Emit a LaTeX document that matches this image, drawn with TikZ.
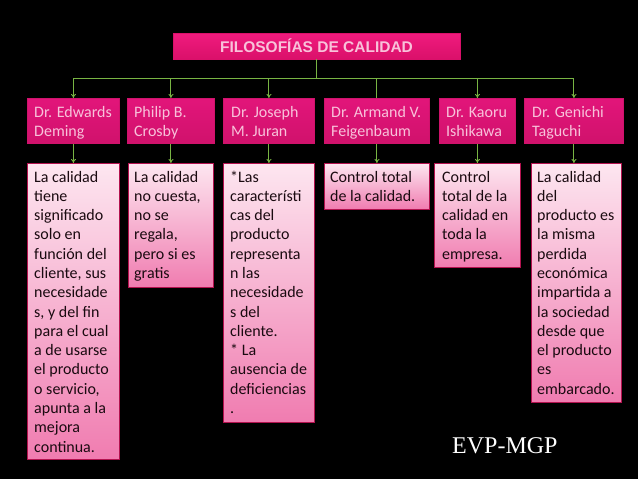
\documentclass[tikz,border=0pt]{standalone}
\usepackage{fontspec}
\newfontfamily\calib{Carlito}
\newfontfamily\arialb{Liberation Sans}
\newfontfamily\timesf{Liberation Serif}
\usetikzlibrary{arrows.meta}
\definecolor{bg}{HTML}{000000}
\definecolor{pinkD}{HTML}{E2157A}
\definecolor{pinkDb}{HTML}{D0126C}
\definecolor{pinkT}{HTML}{F01B7E}
\definecolor{pinkTb}{HTML}{DA106A}
\definecolor{pinkTxt}{HTML}{F8C2DA}
\definecolor{pinkL}{HTML}{FDE6F0}
\definecolor{pinkM}{HTML}{F07CB0}
\definecolor{pinkBorder}{HTML}{B3124F}
\definecolor{conn}{HTML}{78B443}
\definecolor{darktxt}{HTML}{1A0A10}
\newcommand{\toplines}[1]{\parbox[t]{120pt}{\raggedright #1}}
\tikzset{
  titlebox/.style={draw=pinkTb, line width=0.8pt, top color=pinkT, bottom color=pinkTb, minimum width=287pt, minimum height=26pt, inner sep=0pt, font=\arialb\bfseries\fontsize{15.5}{18}\selectfont, text=pinkTxt},
  ubox/.style={draw=pinkDb, line width=0.8pt, top color=pinkD, bottom color=pinkDb, anchor=north west, inner sep=0pt},
  lbox/.style={draw=pinkBorder, line width=0.8pt, top color=pinkL, bottom color=pinkM, anchor=north west, inner sep=0pt},
  utext/.style={anchor=base west, inner sep=0pt, text=pinkTxt, font=\calib\fontsize{16}{19.2}\selectfont},
  ltext/.style={anchor=base west, inner sep=0pt, text=darktxt, font=\calib\fontsize{16}{19.3}\selectfont},
  link/.style={draw=conn, line width=0.9pt},
  arr/.style={link, -{To[length=4pt,width=5pt]}},
}
\begin{document}
\begin{tikzpicture}[x=1pt, y=-1pt]
\useasboundingbox[fill=bg] (0,0) rectangle (638,479);
% title
\node[titlebox] (title) at (316.5,46) {FILOSOFÍAS DE CALIDAD};
\coordinate (bus) at (0,78);
% upper boxes
\node[ubox, minimum width=92pt, minimum height=45pt] (B1) at (27,98) {};
\node[ubox, minimum width=87pt, minimum height=45pt] (B2) at (127,98) {};
\node[ubox, minimum width=91pt, minimum height=45pt] (B3) at (223,98) {};
\node[ubox, minimum width=105pt, minimum height=45pt] (B4) at (324,98) {};
\node[ubox, minimum width=76pt, minimum height=45pt] (B5) at (439,98) {};
\node[ubox, minimum width=99pt, minimum height=45pt] (B6) at (524,98) {};
% lower boxes
\node[lbox, minimum width=92pt, minimum height=296pt] (L1) at (27,163) {};
\node[lbox, minimum width=85pt, minimum height=124pt] (L2) at (128,163) {};
\node[lbox, minimum width=91pt, minimum height=259pt] (L3) at (223,163) {};
\node[lbox, minimum width=105pt, minimum height=46pt] (L4) at (324,163) {};
\node[lbox, minimum width=86pt, minimum height=104pt] (L5) at (434,163) {};
\node[lbox, minimum width=90pt, minimum height=239pt] (L6) at (531,163) {};
% upper texts
\node[utext] (u1) at ([shift={(7pt,-19pt)}]B1.north west) {\toplines{Dr. Edwards\\Deming}};
\node[utext] (u2) at ([shift={(7pt,-19pt)}]B2.north west) {\toplines{Philip B.\\Crosby}};
\node[utext] (u3) at ([shift={(8pt,-19pt)}]B3.north west) {\toplines{Dr. Joseph\\M. Juran}};
\node[utext] (u4) at ([shift={(7pt,-19pt)}]B4.north west) {\toplines{Dr. Armand V.\\Feigenbaum}};
\node[utext] (u5) at ([shift={(7pt,-19pt)}]B5.north west) {\toplines{Dr. Kaoru\\Ishikawa}};
\node[utext] (u6) at ([shift={(8pt,-19pt)}]B6.north west) {\toplines{Dr. Genichi\\Taguchi}};
% lower texts
\node[ltext] (l1) at ([shift={(7pt,-19pt)}]L1.north west) {\toplines{La calidad\\tiene\\significado\\solo en\\función del\\cliente, sus\\necesidade\\s, y del fin\\para el cual\\a de usarse\\el producto\\o servicio,\\apunta a la\\mejora\\continua.}};
\node[ltext] (l2) at ([shift={(6pt,-19pt)}]L2.north west) {\toplines{La calidad\\no cuesta,\\no se\\regala,\\pero si es\\gratis}};
\node[ltext] (l3) at ([shift={(7pt,-19pt)}]L3.north west) {\toplines{*Las\\característi\\cas del\\producto\\representa\\n las\\necesidade\\s del\\cliente.\\[0pt]* La\\ausencia de\\deficiencias\\.}};
\node[ltext] (l4) at ([shift={(6pt,-19pt)}]L4.north west) {\toplines{Control total\\de la calidad.}};
\node[ltext] (l5) at ([shift={(8pt,-19pt)}]L5.north west) {\toplines{Control\\total de la\\calidad en\\toda la\\empresa.}};
\node[ltext] (l6) at ([shift={(6pt,-19pt)}]L6.north west) {\toplines{La calidad\\del\\producto es\\la misma\\perdida\\económica\\impartida a\\la sociedad\\desde que\\el producto\\es\\embarcado.}};
% connectors
\draw[link] (title.south) -- (title.south |- bus);
\draw[link] (B1.north |- bus) -- (B6.north |- bus);
\draw[arr] (B1.north |- bus) -- (B1.north);
\draw[arr] (B2.north |- bus) -- (B2.north);
\draw[arr] (B3.north |- bus) -- (B3.north);
\draw[link] (B4.north |- bus) -- (B4.north);
\draw[arr] (B5.north |- bus) -- (B5.north);
\draw[arr] (B6.north |- bus) -- (B6.north);
\draw[arr] (B1.south) -- (B1.south |- L1.north);
\draw[arr] (B2.south) -- (B2.south |- L2.north);
\draw[arr] (B3.south) -- (B3.south |- L3.north);
\draw[arr] (B4.south) -- (B4.south |- L4.north);
\draw[arr] (B5.south) -- (B5.south |- L5.north);
\draw[arr] (B6.south) -- (B6.south |- L6.north);
% footer
\node[anchor=base west, inner sep=0pt, text=white, font=\timesf\fontsize{24}{28}\selectfont] (evp) at (452,453) {EVP-MGP};
\end{tikzpicture}
\end{document}
